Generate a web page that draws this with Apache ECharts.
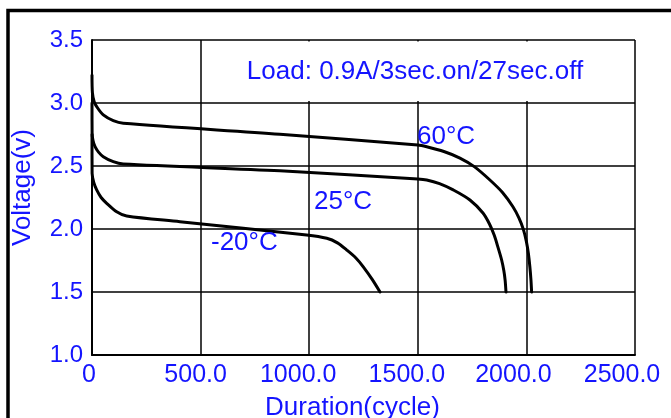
<!DOCTYPE html>
<html><head><meta charset="utf-8">
<script src="https://cdn.jsdelivr.net/npm/echarts@6/dist/echarts.min.js"></script>
<style>html,body{margin:0;padding:0;background:#fff}#c{width:671px;height:418px}</style>
</head><body><div id="c"></div>
<script>
// Data (x = duration in cycles, y = voltage in V)
const curve60 = [[0,3.22],[2,3.08],[10,3.01],[21.6,2.971],[52,2.905],[98,2.86],[144,2.839],[865,2.752],[1500,2.667],[1541,2.653],[1620,2.615],[1694,2.563],[1760,2.495],[1832,2.389],[1890,2.29],[1938,2.177],[1966,2.087],[1986,1.997],[2000,1.90],[2009,1.807],[2016,1.70],[2021,1.595],[2024,1.50]];
const curve25 = [[0,3.0],[0.5,2.76],[5,2.70],[14,2.653],[30,2.61],[52,2.574],[98,2.534],[144,2.516],[865,2.462],[1500,2.397],[1541,2.389],[1600,2.36],[1663,2.31],[1740,2.23],[1800,2.127],[1830,2.04],[1852,1.95],[1870,1.85],[1886,1.754],[1896,1.67],[1902,1.595],[1906,1.50]];
const curveM20 = [[0,2.75],[0.5,2.442],[8,2.37],[21.6,2.31],[42,2.25],[67.7,2.204],[113.7,2.137],[159.8,2.103],[405,2.058],[988,1.952],[1081,1.926],[1130,1.89],[1173,1.833],[1215,1.77],[1249,1.70],[1290,1.60],[1326,1.50]];
const seriesNames = ['60°C','25°C','-20°C'];
const xTickLabels = ['0','500.0','1000.0','1500.0','2000.0','2500.0'];
const yTickLabels = ['1.0','1.5','2.0','2.5','3.0','3.5'];
const loadText = 'Load: 0.9A/3sec.on/27sec.off';

const BLUE = '#1414ff';
const FONT = 'Liberation Sans, Arial, sans-serif';
// small leftward shifts of the x tick labels as in the original picture (px)
const xLabelShift = [3, 5, 11, 11, 13, 13];
const xRich = {};
xLabelShift.forEach((s, i) => {
  xRich['s' + i] = {color:BLUE, fontFamily:FONT, fontSize:25, padding:[0, 2 * s, 0, 0]};
});
const chart = echarts.init(document.getElementById('c'), null, {renderer:'canvas'});
const mkSeries = (name, data) => ({
  name, type:'line', data, showSymbol:false, smooth:0.3,
  lineStyle:{color:'#000', width:3, join:'round', cap:'round'}, z:5, animation:false
});
chart.setOption({
  animation:false,
  backgroundColor:'#fff',
  grid:{left:92, right:36, top:40, bottom:63, containLabel:false, outerBoundsMode:'none'},
  xAxis:{
    type:'value', min:0, max:2500, interval:500,
    axisLine:{show:true, lineStyle:{color:'#000', width:2}},
    axisTick:{show:false},
    splitLine:{show:true, lineStyle:{color:'#000', width:1.5}},
    axisLabel:{color:BLUE, fontFamily:FONT, fontSize:25, margin:8, rich:xRich,
      formatter:(v)=>{const i = Math.round(v/500); return '{s' + i + '|' + xTickLabels[i] + '}';}},
    name:'Duration(cycle)', nameLocation:'middle', nameGap:40,
    nameTextStyle:{color:BLUE, fontFamily:FONT, fontSize:26, padding:[0, 22, 0, 0]}
  },
  yAxis:{
    type:'value', min:1, max:3.5, interval:0.5,
    axisLine:{show:true, lineStyle:{color:'#000', width:2}},
    axisTick:{show:false},
    splitLine:{show:true, lineStyle:{color:'#000', width:1.5}},
    axisLabel:{color:BLUE, fontFamily:FONT, fontSize:24, margin:9,
      formatter:(v)=>yTickLabels[Math.round((v-1)/0.5)]},
    name:'Voltage(v)', nameLocation:'middle', nameGap:56,
    nameTextStyle:{color:BLUE, fontFamily:FONT, fontSize:26, padding:[0, 0, 0, 20]}
  },
  series:[mkSeries(seriesNames[0], curve60), mkSeries(seriesNames[1], curve25), mkSeries(seriesNames[2], curveM20)],
  graphic:[
    {type:'rect', z:100, shape:{x:202, y:41.5, width:432, height:59.5}, style:{fill:'#fff'}},
    {type:'text', z:101, x:415, y:72, style:{text:loadText, fill:BLUE, font:'26px '+FONT, textAlign:'center', textVerticalAlign:'middle'}},
    {type:'text', z:101, x:417, y:137, style:{text:seriesNames[0], fill:BLUE, font:'26px '+FONT, textAlign:'left', textVerticalAlign:'middle'}},
    {type:'text', z:101, x:314, y:202, style:{text:seriesNames[1], fill:BLUE, font:'26px '+FONT, textAlign:'left', textVerticalAlign:'middle'}},
    {type:'text', z:101, x:211, y:243, style:{text:seriesNames[2], fill:BLUE, font:'26px '+FONT, textAlign:'left', textVerticalAlign:'middle'}},
    {type:'rect', z:102, shape:{x:8, y:10.5, width:720, height:460}, style:{fill:null, stroke:'#000', lineWidth:3.5}}
  ]
});
</script></body></html>
